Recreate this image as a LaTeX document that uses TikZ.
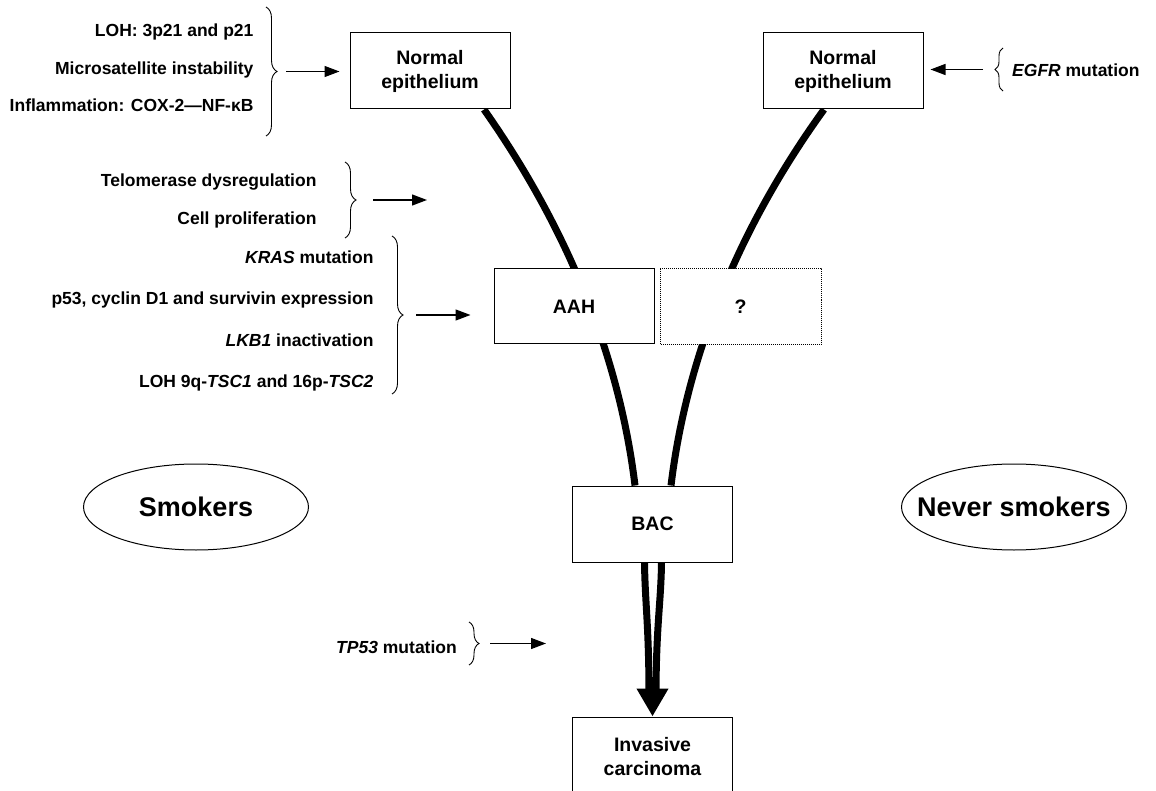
\documentclass[tikz,border=0pt]{standalone}
\usepackage{fontspec}
\setmainfont{Liberation Sans}
\usetikzlibrary{arrows.meta,matrix,positioning,shapes.geometric,%
                    backgrounds,decorations.pathreplacing}
\tikzset{
stage/.style={
  draw,
  fill=white,
  line width=1pt,
  minimum width=160pt,
  minimum height=76pt,
  inner sep=0pt,
  align=center,
  font=\fontsize{19.5}{24}\selectfont\bfseries
  },
group/.style={
  ellipse,
  draw,
  line width=1pt,
  minimum width=225pt,
  minimum height=86pt,
  inner xsep=-22pt,
  inner ysep=0pt,
  font=\fontsize{27}{30}\selectfont\bfseries
  },
evlist/.style={
  matrix of nodes,
  anchor=east,
  nodes={inner sep=0pt, text height=12.5pt, text depth=3.5pt,
         font=\fontsize{17.5}{20}\selectfont\bfseries},
  column 1/.style={anchor=base east},
  row sep=#1
  },
evtext/.style={inner sep=0pt, font=\fontsize{17.5}{20}\selectfont\bfseries},
brc/.style={decorate, decoration={brace, amplitude=#1}, line width=0.9pt},
feed/.style={line width=1.3pt, -{Triangle[length=15pt,width=11pt]}},
route/.style={line width=7pt}
}

\begin{document}
\begin{tikzpicture}[x=1pt,y=-1pt]
\useasboundingbox (0,0) rectangle (1156,791);

% stages
\node[stage] (smknorm) at (430,71) {Normal\\epithelium};
\node[stage] (nevnorm) at (843,71) {Normal\\epithelium};
\node[stage, minimum height=75pt] (aah) at (574,306.5) {AAH};
\node[stage, minimum height=75pt, draw=none] (unk) at (740.5,306.5) {?};
\draw[line width=0.9pt, dash pattern=on 1pt off 1pt] (unk.south west) rectangle (unk.north east);
\node[stage] (bac) at (652.5,524) {BAC};
\node[stage, minimum height=80pt] (inv) at (652.5,757) {Invasive\\carcinoma};

\node[group] (smk) at (196,507) {Smokers};
\node[group] (nsmk) at (1014,507) {Never smokers};

% events
\matrix[evlist=21.5pt] (lohlist) at (257,70)
{
  LOH: 3p21 and p21 \\
  Microsatellite instability \\
  Inflammation: COX-2—NF-κB \\
};
\matrix[evlist=22pt] (prolif) at (320,201)
{
  Telomerase dysregulation \\
  Cell proliferation \\
};
\matrix[evlist=25.3pt] (aahlist) at (377,321)
{
  \textit{KRAS} mutation \\
  p53, cyclin D1 and survivin expression \\
  \textit{LKB1} inactivation \\
  LOH 9q-\textit{TSC1} and 16p-\textit{TSC2} \\
};
\node[evtext, anchor=east] (tp53) at (457,647) {\textit{TP53} mutation};
\node[evtext, anchor=west] (egfr) at (1012,70) {\textit{EGFR} mutation};

% braces
\draw[brc=11pt] (266,7) -- (266,136);
\coordinate (lohtip) at (277,71.5);
\draw[brc=11pt] (345,162) -- (345,238);
\coordinate (proliftip) at (356,200);
\draw[brc=11pt] (392,236) -- (392,394);
\coordinate (aahtip) at (403,315);
\draw[brc=10pt] (469,622) -- (469,665);
\coordinate (tp53tip) at (479,643.5);
\draw[brc=8pt] (1003,91) -- (1003,48);
\coordinate (egfrtip) at (995,69.5);

\coordinate (prolifend) at (427,200);
\coordinate (tp53end) at (546,643.5);

\draw[feed, shorten <=9pt, shorten >=10pt] (lohtip) -- (lohtip -| smknorm.west);
\draw[feed, shorten <=17pt] (proliftip) -- (prolifend);
\draw[feed, shorten <=13pt, shorten >=23pt] (aahtip) -- (aahtip -| aah.west);
\draw[feed, shorten <=11pt] (tp53tip) -- (tp53end);
\draw[feed, shorten <=12pt, shorten >=7pt] (egfrtip) -- (egfrtip -| nevnorm.east);

% pathways
\begin{scope}[on background layer]
\draw[route] ([xshift=54pt]smknorm.south) .. controls (554,209) and (617,337) .. ([xshift=-17.5pt]bac.north);
\draw[route] ([xshift=-19pt]nevnorm.south) .. controls (752,209) and (689,337) .. ([xshift=18.5pt]bac.north);
\draw[route] ([xshift=-8pt]bac.south) .. controls +(0.5,40) and +(0,-70) .. ([xshift=-3.5pt,yshift=20pt]inv.north);
\draw[route] ([xshift=9pt]bac.south) .. controls +(-0.5,40) and +(0,-70) .. ([xshift=3.5pt,yshift=20pt]inv.north);
\draw[route, -{Triangle[length=28pt,width=30pt]}] ([yshift=40pt]inv.north) -- (inv.north);
\end{scope}

\end{tikzpicture}
\end{document}
